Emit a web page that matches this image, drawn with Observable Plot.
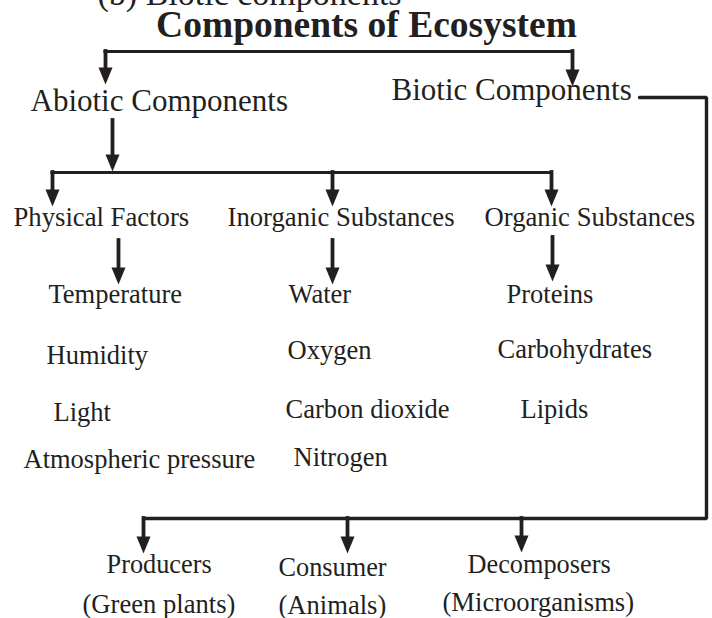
<!DOCTYPE html>
<html>
<head>
<meta charset="utf-8">
<script src="https://cdn.jsdelivr.net/npm/d3@7"></script>
<script src="https://cdn.jsdelivr.net/npm/@observablehq/plot@0.6"></script>
<style>
  html, body { margin: 0; padding: 0; background: #fff; }
  #chart svg { display: block; }
</style>
</head>
<body>
<div id="chart"></div>
<script>
// ---- Diagram content (text of each box) ----
const titleText = "Components of Ecosystem";
const headerText = "(b) Biotic components";
const mainLabels = ["Abiotic Components", "Biotic Components"];
const subLabels = ["Physical Factors", "Inorganic Substances", "Organic Substances"];
const itemLabels = [
  "Temperature", "Water", "Proteins",
  "Humidity", "Oxygen", "Carbohydrates",
  "Light", "Carbon dioxide", "Lipids",
  "Atmospheric pressure", "Nitrogen"
];
const bioticLabels = ["Producers", "Consumer", "Decomposers"];
const bioticExamples = ["(Green plants)", "(Animals)", "(Microorganisms)"];

// ---- Layout (left edge / baseline, in diagram units) ----
const mainX = [30, 391], mainY = [110, 99];
const subX = [13, 227, 484], subY = [225, 225, 225];
const itemX = [48, 288, 506, 46, 287, 497, 53, 285, 520, 23, 293];
const itemY = [302, 302, 302, 363, 358, 357, 420, 417, 417, 467, 465];
const bioticX = [106, 278, 467], bioticY = [572, 575, 572];
const exampleX = [82, 278, 442], exampleY = [612, 613, 610];

// connectors: horizontal bars
const barY = [51, 172];
const barX1 = [105, 52];
const barX2 = [572, 551];
// connectors: arrows (x, start y, tip y)
const arrowX    = [105, 572, 112,  52, 332, 551, 118, 332, 552, 143, 347, 521];
const arrowFrom = [ 51,  51, 120, 172, 172, 172, 240, 240, 237, 518, 518, 518];
const arrowTip  = [ 84,  86, 171, 206, 206, 206, 284, 284, 281, 553, 553, 552];
// connector from "Biotic Components" round to the bottom row
const connX = [639, 706, 706, 143];
const connY = [97, 97, 518, 518];

const ink = "#231f20";
const font = "'Liberation Serif', 'Times New Roman', serif";

const toRows = (texts, xs, ys) => texts.map((t, i) => ({text: t, x: xs[i], y: ys[i]}));
const mains = toRows(mainLabels, mainX, mainY);
const subs = toRows(subLabels, subX, subY);
const items = toRows(itemLabels, itemX, itemY);
const biotics = toRows(bioticLabels, bioticX, bioticY);
const examples = toRows(bioticExamples, exampleX, exampleY);
const bars = barY.map((y, i) => ({y, x1: barX1[i], x2: barX2[i]}));
const arrows = arrowX.map((x, i) => ({x, from: arrowFrom[i], tip: arrowTip[i]}));
const conn = connX.map((x, i) => ({x, y: connY[i]}));

const head = {
  draw(ctx) {
    ctx.moveTo(-7, -17);
    ctx.lineTo(7, -17);
    ctx.lineTo(0, 0);
    ctx.closePath();
  }
};

const textOpts = (size) => ({
  x: "x", y: "y", text: "text",
  textAnchor: "start", lineAnchor: "bottom",
  fontSize: size, fill: ink, fontFamily: font
});

const chart = Plot.plot({
  width: 712,
  height: 618,
  margin: 0,
  x: {type: "linear", domain: [0, 712], range: [0, 712], axis: null},
  y: {type: "linear", domain: [0, 618], range: [0, 618], axis: null},
  style: {background: "#fff", fontFamily: font},
  marks: [
    Plot.text([{text: headerText, x: 97, y: 4}], {...textOpts(34)}),
    Plot.text([{text: titleText, x: 366, y: 36}], {
      x: "x", y: "y", text: "text", textAnchor: "middle", lineAnchor: "bottom",
      fontSize: 37.5, fontWeight: "bold", fill: ink, fontFamily: font
    }),
    Plot.ruleY(bars, {y: "y", x1: "x1", x2: "x2", stroke: ink, strokeWidth: 3.2, strokeLinecap: "square"}),
    Plot.ruleX(arrows, {x: "x", y1: "from", y2: d => d.tip - 10, stroke: ink, strokeWidth: 3.8, strokeLinecap: "square"}),
    Plot.line(conn, {x: "x", y: "y", stroke: ink, strokeWidth: 3.4, strokeLinejoin: "miter", curve: "linear"}),
    Plot.dot(arrows, {x: "x", y: "tip", symbol: head, r: 5, fill: ink, stroke: "none"}),
    Plot.text(mains, textOpts(31)),
    Plot.text(subs, textOpts(26.7)),
    Plot.text(items, textOpts(26.5)),
    Plot.text(biotics, textOpts(26.3)),
    Plot.text(examples, textOpts(26.6))
  ]
});

document.getElementById("chart").append(chart);
</script>
</body>
</html>
